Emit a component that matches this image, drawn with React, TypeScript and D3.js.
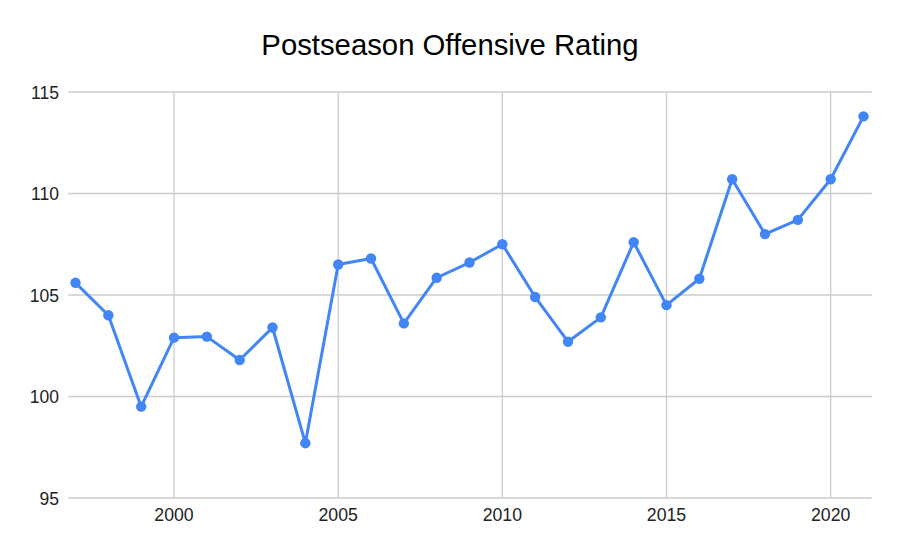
import React from "react";
import * as d3 from "d3";

const years = [1997, 1998, 1999, 2000, 2001, 2002, 2003, 2004, 2005, 2006, 2007, 2008, 2009, 2010, 2011, 2012, 2013, 2014, 2015, 2016, 2017, 2018, 2019, 2020, 2021];
const ratings = [105.6, 104.0, 99.5, 102.9, 102.95, 101.8, 103.4, 97.7, 106.5, 106.8, 103.6, 105.85, 106.6, 107.5, 104.9, 102.7, 103.9, 107.6, 104.5, 105.8, 110.7, 108.0, 108.7, 110.7, 113.8];
const yTicks = [95, 100, 105, 110, 115];
const xTicks = [2000, 2005, 2010, 2015, 2020];
const title = "Postseason Offensive Rating";

const W = 900;
const H = 557;
const left = 68.3;
const right = 871.7;
const top = 92;
const bottom = 498;

export default function App() {
  const x = d3.scaleLinear().domain([1996.78, 2021.25]).range([left, right]);
  const y = d3.scaleLinear().domain([95, 115]).range([bottom, top]);
  const data = years.map((yr, i) => ({ yr, v: ratings[i] }));
  const line = d3
    .line<{ yr: number; v: number }>()
    .x((d) => x(d.yr))
    .y((d) => y(d.v));
  const font = "'Liberation Sans', Arial, sans-serif";
  return (
    <svg
      width={W}
      height={H}
      style={{ position: "absolute", left: 0, top: 0, background: "#fff" }}
    >
      <rect x={0} y={0} width={W} height={H} fill="#fff" />
      <text x={450} y={55} textAnchor="middle" fontFamily={font} fontSize={29.3} fill="#000">
        {title}
      </text>
      {yTicks.map((t) => (
        <g key={"y" + t}>
          <line x1={left} x2={right} y1={y(t)} y2={y(t)} stroke="#cccccc" strokeWidth={1.3} />
          <text x={59} y={y(t) + 6.5} textAnchor="end" fontFamily={font} fontSize={17.5} fill="#222">
            {t}
          </text>
        </g>
      ))}
      {xTicks.map((t) => (
        <g key={"x" + t}>
          <line x1={x(t)} x2={x(t)} y1={top} y2={bottom} stroke="#cccccc" strokeWidth={1.3} />
          <text x={x(t)} y={521} textAnchor="middle" fontFamily={font} fontSize={17.7} fill="#222">
            {t}
          </text>
        </g>
      ))}
      <path d={line(data) || ""} fill="none" stroke="#4285f4" strokeWidth={3} strokeLinejoin="round" />
      {data.map((d) => (
        <circle key={d.yr} cx={x(d.yr)} cy={y(d.v)} r={5.2} fill="#4285f4" />
      ))}
    </svg>
  );
}
